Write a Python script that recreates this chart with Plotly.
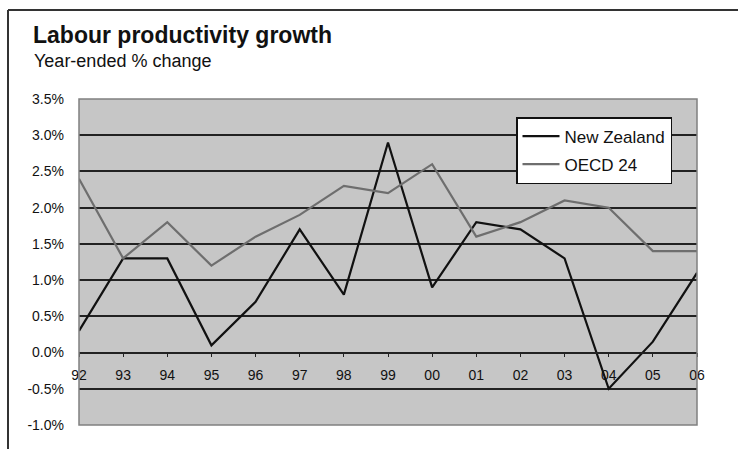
import plotly.graph_objects as go

years = ["92", "93", "94", "95", "96", "97", "98", "99", "00", "01", "02", "03", "04", "05", "06"]
new_zealand = [0.3, 1.3, 1.3, 0.1, 0.7, 1.7, 0.8, 2.9, 0.9, 1.8, 1.7, 1.3, -0.5, 0.15, 1.1]
oecd_24 = [2.4, 1.3, 1.8, 1.2, 1.6, 1.9, 2.3, 2.2, 2.6, 1.6, 1.8, 2.1, 2.0, 1.4, 1.4]
y_ticks = [-1.0, -0.5, 0.0, 0.5, 1.0, 1.5, 2.0, 2.5, 3.0, 3.5]
y_tick_labels = [f"{v:.1f}%" for v in y_ticks]

W, H = 738, 449
L, R, T, B = 79, 41, 99, 24
pw, ph = W - L - R, H - T - B
ymin, ymax = -1.0, 3.5

def px_x(p):
    return (p - L) / pw

def px_y(p):
    return (H - B - p) / ph

x_idx = list(range(len(years)))

fig = go.Figure()
fig.add_trace(go.Scatter(x=x_idx, y=new_zealand, mode="lines", name="New Zealand",
                         legendgroup="nz",
                         line=dict(color="#111111", width=2.2)))
fig.add_trace(go.Scatter(x=x_idx, y=oecd_24, mode="lines", name="OECD 24",
                         legendgroup="oecd",
                         line=dict(color="#6e6e6e", width=2.2)))

fig.update_layout(
    width=W, height=H,
    margin=dict(l=L, r=R, t=T, b=B),
    paper_bgcolor="white",
    plot_bgcolor="#c6c6c6",
    font=dict(family="Arial, Liberation Sans, sans-serif", color="#111111"),
    showlegend=True,
    legend=dict(x=px_x(516), y=px_y(117), xanchor="left", yanchor="top",
                bgcolor="white", bordercolor="#111111", borderwidth=1.5,
                font=dict(size=17, color="#111111"),
                traceorder="grouped", tracegroupgap=3, itemwidth=37),
    xaxis=dict(range=[0, len(years) - 1], tickmode="array", tickvals=x_idx,
               ticktext=years, showgrid=False, zeroline=False,
               anchor="free", position=(0 - ymin) / (ymax - ymin),
               showline=True, linecolor="#222222", linewidth=1.5,
               ticks="outside", ticklen=4, tickcolor="#222222",
               ticklabelstandoff=6,
               tickfont=dict(size=14, color="#111111"), fixedrange=True),
    yaxis=dict(range=[ymin, ymax], tickmode="array", tickvals=y_ticks,
               ticktext=y_tick_labels, showgrid=True, gridcolor="#222222",
               gridwidth=1.5, zeroline=False, showline=False,
               tickfont=dict(size=14, color="#111111"), ticks="",
               ticklabelstandoff=14, fixedrange=True),
    shapes=[
        dict(type="rect", xref="paper", yref="paper", x0=0, x1=1, y0=0, y1=1,
             line=dict(color="#808080", width=1.5), layer="above"),
        dict(type="line", xref="paper", yref="paper", x0=px_x(8), x1=px_x(8),
             y0=px_y(449), y1=px_y(10), line=dict(color="#333333", width=2)),
        dict(type="line", xref="paper", yref="paper", x0=px_x(8), x1=px_x(740),
             y0=px_y(10), y1=px_y(10), line=dict(color="#333333", width=2)),
    ],
    annotations=[
        dict(text="<b>Labour productivity growth</b>", xref="paper", yref="paper",
             x=px_x(31), y=px_y(35), xanchor="left", yanchor="middle",
             showarrow=False, font=dict(size=23, color="#111111")),
        dict(text="Year-ended % change", xref="paper", yref="paper",
             x=px_x(32), y=px_y(61), xanchor="left", yanchor="middle",
             showarrow=False, font=dict(size=18, color="#111111")),
    ],
)

fig.write_html("out.html")
